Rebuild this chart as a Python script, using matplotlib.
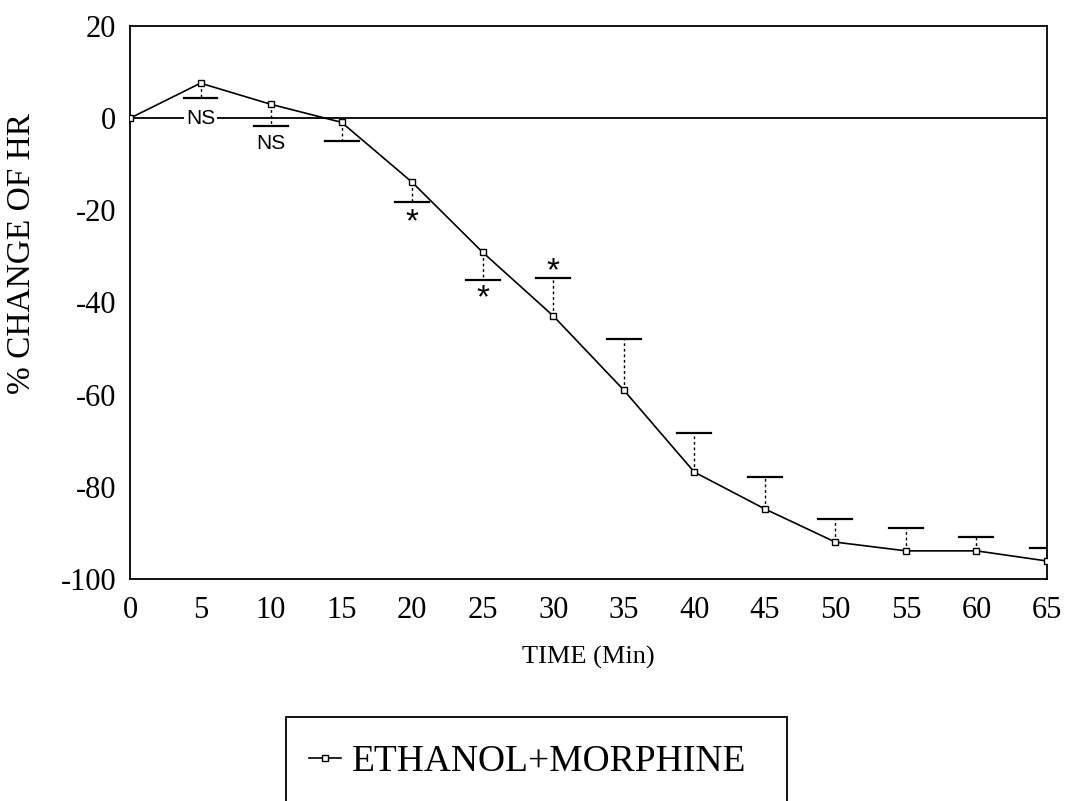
import numpy as np
import matplotlib
matplotlib.use("Agg")
from matplotlib import pyplot as plt
from matplotlib.patches import Rectangle

plt.rcParams['axes.unicode_minus'] = False

# values
time_min = [0, 5, 10, 15, 20, 25, 30, 35, 40, 45, 50, 55, 60, 65]
hr_change = [0, 7.6, 3.0, -0.9, -13.9, -29.1, -42.9, -59.0, -76.8, -84.8, -92.0, -93.9, -93.9, -96.1]
sem_low = [0, 3.3, 4.7, 4.1, 4.3, 6.0, 0, 0, 0, 0, 0, 0, 0, 0]
sem_high = [0, 0, 0, 0, 0, 0, 8.2, 11.1, 8.5, 6.9, 5.0, 5.0, 3.0, 2.8]

# significance labels
sig_x = [5, 10, 20, 25, 30]
sig_y = [0, -5.4, -20.8, -37.3, -31.5]
sig_text = ['NS', 'NS', '*', '*', '*']

xticks = list(range(0, 70, 5))
yticks = [20, 0, -20, -40, -60, -80, -100]
series_name = 'ETHANOL+MORPHINE'

serif = ['Liberation Serif', 'DejaVu Serif']
sans = ['Liberation Sans', 'DejaVu Sans']

fig = plt.figure(figsize=(10.68, 8.01), dpi=100)
ax = fig.add_axes([0.1217, 0.2772, 0.8586, 0.6903])

ax.axhline(0, color='black', lw=1.3, zorder=1)

# one-sided error bars: dotted stem + wide solid cap
for x, y, lo, hi in zip(time_min, hr_change, sem_low, sem_high):
	if lo > 0:
		end = y - lo
	elif hi > 0:
		end = y + hi
	else:
		continue
	ax.plot([x, x], [y, end], color='black', lw=1.0, ls=(0, (2, 2)), zorder=2)
	ax.plot([x - 1.2, x + 1.2], [end, end], color='black', lw=1.6, zorder=2)

line, = ax.plot(time_min, hr_change, color='black', lw=1.2, marker='s', ms=4.5,
	mfc='white', mec='black', mew=1.0, zorder=3)

for x, y, t in zip(sig_x, sig_y, sig_text):
	if t == 'NS':
		ax.text(x, y, t, ha='center', va='center', fontsize=15, family=sans,
			bbox=dict(facecolor='white', edgecolor='none', pad=1.5), zorder=4)
	else:
		# asterisk glyph sits high in the line box, nudge it down
		ax.annotate(t, (x, y), xytext=(0, -6), textcoords='offset points',
			ha='center', va='center', fontsize=24, family=sans, zorder=4)

ax.set_xlim(0, 65)
ax.set_ylim(-100, 20)
ax.set_xticks(xticks)
ax.set_yticks(yticks)
ax.tick_params(length=0, labelsize=22)
ax.tick_params(axis='x', pad=12)
ax.tick_params(axis='y', pad=10)
for lab in ax.get_xticklabels() + ax.get_yticklabels():
	lab.set_family(serif)
for s in ax.spines.values():
	s.set_linewidth(1.3)

ax.set_xlabel('TIME (Min)', fontsize=19, family=serif, labelpad=15)
ax.set_ylabel('% CHANGE OF HR', fontsize=24, family=serif)
ax.yaxis.set_label_coords(-0.101, 0.589)

# legend box, runs off the bottom edge like the scan
fig.patches.append(Rectangle((0.2678, -0.05), 0.469, 0.155, transform=fig.transFigure,
	facecolor='none', edgecolor='black', lw=1.3))
fig.legend([line], [series_name], loc='center left', bbox_to_anchor=(0.272, 0.049),
	frameon=False, handlelength=0.85, handletextpad=0.3, borderpad=0,
	prop={'family': serif, 'size': 27})

fig.savefig('out.png', dpi=100)
